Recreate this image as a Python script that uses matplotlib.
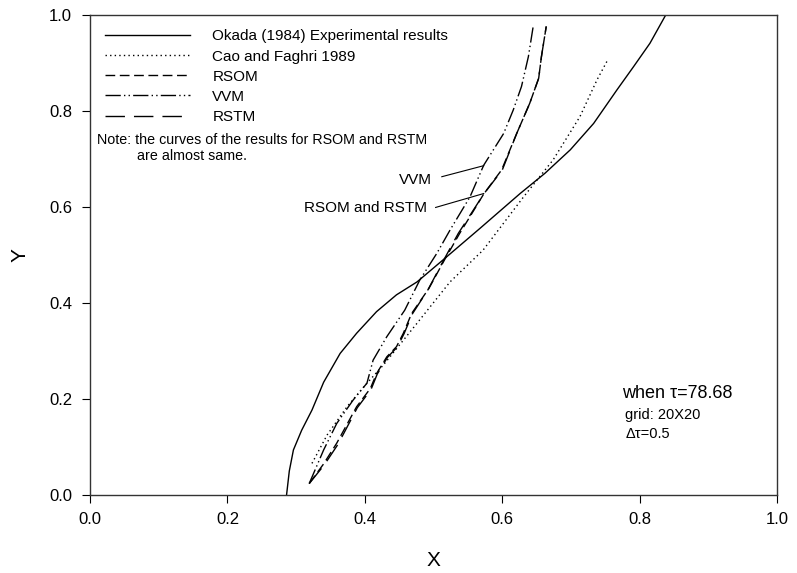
import numpy as np
import matplotlib
matplotlib.use('Agg')
import matplotlib.pyplot as plt
from matplotlib.lines import Line2D

plt.rcParams['font.family'] = ['Liberation Sans', 'DejaVu Sans']

# Okada (1984) experimental
okada_x = [0.286, 0.290, 0.296, 0.308, 0.323, 0.340, 0.364, 0.388, 0.417, 0.446,
           0.476, 0.514, 0.568, 0.626, 0.662, 0.699, 0.733, 0.767, 0.791, 0.815, 0.838]
okada_y = [0.0, 0.05, 0.094, 0.135, 0.177, 0.235, 0.295, 0.337, 0.382, 0.417,
           0.444, 0.49, 0.556, 0.628, 0.670, 0.719, 0.774, 0.844, 0.892, 0.941, 1.0]

# Cao and Faghri 1989
cao_x = [0.323, 0.345, 0.374, 0.400, 0.427, 0.476, 0.524, 0.572, 0.631, 0.674, 0.713, 0.738, 0.753]
cao_y = [0.066, 0.125, 0.184, 0.228, 0.271, 0.358, 0.444, 0.51, 0.621, 0.698, 0.788, 0.865, 0.905]

# RSOM
rsom_x = [0.319, 0.340, 0.359, 0.388, 0.408, 0.417, 0.432, 0.446, 0.456, 0.468, 0.493, 0.516,
          0.538, 0.556, 0.573, 0.599, 0.621, 0.640, 0.653, 0.657, 0.664]
rsom_y = [0.024, 0.065, 0.108, 0.184, 0.222, 0.253, 0.288, 0.309, 0.337, 0.378, 0.430, 0.49,
          0.545, 0.587, 0.627, 0.677, 0.753, 0.816, 0.868, 0.913, 0.976]

# VVM
vvm_x = [0.319, 0.340, 0.359, 0.383, 0.403, 0.412, 0.432, 0.458, 0.480, 0.505, 0.524, 0.553,
         0.573, 0.602, 0.616, 0.628, 0.638, 0.645]
vvm_y = [0.024, 0.094, 0.149, 0.198, 0.233, 0.281, 0.33, 0.385, 0.448, 0.504, 0.552, 0.621,
         0.687, 0.753, 0.802, 0.851, 0.913, 0.976]

# RSTM (almost same as RSOM)
rstm_x = [0.319, 0.341, 0.361, 0.389, 0.409, 0.418, 0.433, 0.447, 0.457, 0.469, 0.492, 0.515,
          0.536, 0.555, 0.573, 0.600, 0.621, 0.640, 0.653, 0.657, 0.664]
rstm_y = [0.024, 0.063, 0.106, 0.182, 0.220, 0.252, 0.287, 0.308, 0.336, 0.377, 0.428, 0.49,
          0.545, 0.587, 0.627, 0.677, 0.753, 0.816, 0.868, 0.913, 0.976]

labels = ['Okada (1984) Experimental results', 'Cao and Faghri 1989', 'RSOM', 'VVM', 'RSTM']

fig = plt.figure(figsize=(7.97, 5.73), dpi=100)
ax = fig.add_axes([0.113, 0.136, 0.862, 0.838])

lw = 1.0
styles = ['-', (0, (1, 2.3)), (0, (7, 3.3)), (0, (11, 2.3, 1, 2.3, 1, 2.3)), (0, (14, 6.5))]
series = [(okada_x, okada_y), (cao_x, cao_y), (rsom_x, rsom_y), (vvm_x, vvm_y), (rstm_x, rstm_y)]
for (sx, sy), ls in zip(series, styles):
    ax.plot(sx, sy, color='black', lw=lw, linestyle=ls)

handles = [Line2D([], [], color='black', lw=lw, linestyle=ls) for ls in styles]
leg = ax.legend(handles, labels, loc='upper left', bbox_to_anchor=(0.0, 1.0),
                frameon=False, fontsize=11, handlelength=5.6, handletextpad=1.45,
                labelspacing=0.4, borderaxespad=0.5, borderpad=0.45)

ax.text(0.01, 0.732, 'Note: the curves of the results for RSOM and RSTM', fontsize=10.3)
ax.text(0.068, 0.698, 'are almost same.', fontsize=10.3)

# annotations
ax.plot([0.512, 0.573], [0.663, 0.686], color='black', lw=0.8)
ax.plot([0.503, 0.573], [0.599, 0.628], color='black', lw=0.8)
ax.text(0.497, 0.656, 'VVM', fontsize=11, ha='right', va='center')
ax.text(0.490, 0.598, 'RSOM and RSTM', fontsize=11, ha='right', va='center')

ax.text(0.774, 0.212, 'when \u03c4=78.68', fontsize=13, va='center')
ax.text(0.779, 0.167, 'grid: 20X20', fontsize=10.5, va='center')
ax.text(0.779, 0.128, '\u0394\u03c4=0.5', fontsize=10.5, va='center')

ax.set_xlim(0, 1)
ax.set_ylim(0, 1)
ax.set_xticks(np.arange(0, 1.01, 0.2))
ax.set_yticks(np.arange(0, 1.01, 0.2))
ax.set_xticklabels(['0.0', '0.2', '0.4', '0.6', '0.8', '1.0'])
ax.set_yticklabels(['0.0', '0.2', '0.4', '0.6', '0.8', '1.0'])
ax.tick_params(direction='out', length=5.5, width=0.8, labelsize=12, top=False, right=False)
ax.tick_params(axis='x', pad=7)
ax.tick_params(axis='y', pad=7.5)
for s in ax.spines.values():
    s.set_linewidth(1.0)
    s.set_color('#333333')
ax.set_xlabel('X', fontsize=15, labelpad=17)
ax.set_ylabel('Y', fontsize=15, labelpad=14)

fig.savefig('out.png', dpi=100)
